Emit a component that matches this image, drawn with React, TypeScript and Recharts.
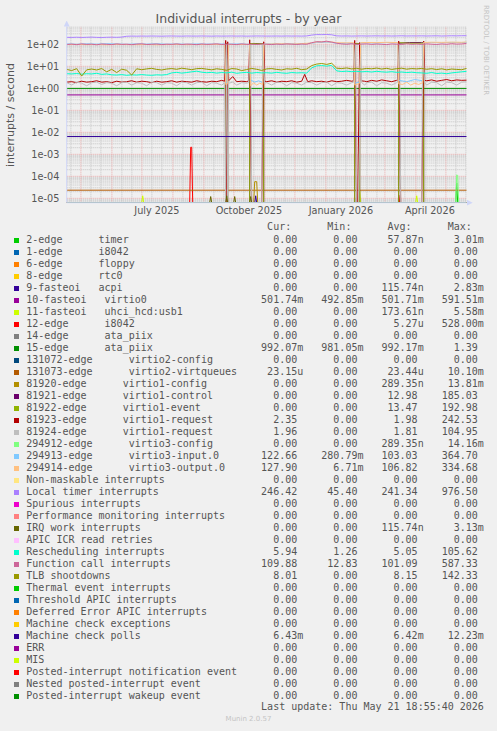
import { Line, LineChart, ReferenceLine, XAxis, YAxis } from "recharts";

type Pt = [number, number];

// x is "days since the start of the 400-day window"
const START = Date.parse("2025-04-16T18:55:40Z");
const dayOf = (iso: string) => (Date.parse(iso + "T00:00:00Z") - START) / 86400000;

const GRID_MONTHS = [
  "2025-04", "2025-05", "2025-06", "2025-07", "2025-08", "2025-09", "2025-10",
  "2025-11", "2025-12", "2026-01", "2026-02", "2026-03", "2026-04", "2026-05",
];
const LABEL_DATES = ["2025-07-16", "2025-10-16", "2026-01-16", "2026-04-15"];
const LABEL_TEXT = ["July 2025", "October 2025", "January 2026", "April 2026"];
const Y_TICKS = [1e-5, 1e-4, 1e-3, 1e-2, 1e-1, 1, 10, 100];
const Y_MINOR_STEPS = [2, 3, 4, 5, 6, 7, 8, 9];

const Y_MIN = 6.31e-6;
const Y_MAX = 644;

// sample days for the noisy series (every 5 days)
const DAYS5 = [
  0, 5, 10, 15, 20, 25, 30, 35, 40, 45,
  50, 55, 60, 65, 70, 75, 80, 85, 90, 95,
  100, 105, 110, 115, 120, 125, 130, 135, 140, 145,
  150, 155, 160, 165, 170, 175, 180, 185, 190, 195,
  200, 205, 210, 215, 220, 225, 230, 235, 240, 245,
  250, 255, 260, 265, 270, 275, 280, 285, 290, 295,
  300, 305, 310, 315, 320, 325, 330, 335, 340, 345,
  350, 355, 360, 365, 370, 375, 380, 385, 390, 395,
  400,
];

const LOCAL_TIMER = [
  208, 206, 210, 205, 209, 212, 207, 204, 209, 211,
  208, 213, 232, 236, 234, 237, 235, 238, 236, 234,
  237, 239, 236, 235, 238, 237, 236, 239, 237, 235,
  238, 236, 237, 239, 236, 238, 235, 237, 239, 238,
  236, 237, 238, 236, 239, 237, 238, 236, 240, 262,
  276, 274, 278, 270, 242, 238, 240, 237, 239, 241,
  238, 240, 242, 239, 241, 238, 240, 243, 239, 241,
  240, 242, 239, 241, 243, 238, 241, 244, 242, 245,
  246,
];

const FUNCTION_CALL = [
  98, 102, 96, 104, 99, 101, 95, 103, 100, 97,
  104, 99, 101, 96, 102, 105, 98, 100, 103, 97,
  101, 99, 104, 98, 102, 100, 96, 103, 99, 101,
  105, 98, 102, 100, 97, 104, 99, 101, 98, 103,
  100, 97, 102, 99, 104, 101, 98, 103, 100, 118,
  132, 128, 138, 126, 112, 104, 100, 106, 98, 102,
  105, 99, 103, 100, 97, 104, 101, 98, 106, 100,
  103, 99, 105, 101, 98, 104, 100, 107, 102, 104,
  110,
];

const RESCHEDULING = [
  4.6, 4.5, 4.7, 4.4, 4.6, 4.5, 4.8, 4.3, 4.5, 4.1,
  4.0, 4.2, 3.9, 4.1, 4.0, 4.2, 4.0, 3.9, 4.1, 4.0,
  4.2, 5.0, 5.3, 4.9, 5.2, 5.6, 6.0, 5.4, 5.1, 5.3,
  4.9, 5.2, 5.0, 5.4, 4.8, 5.1, 5.3, 4.9, 5.2, 5.0,
  5.1, 4.9, 5.3, 5.0, 4.8, 5.2, 5.0, 5.1, 4.9, 8.5,
  10.5, 10.8, 10.2, 11.0, 6.2, 5.8, 6.0, 5.7, 5.9, 5.6,
  5.8, 5.5, 5.9, 5.6, 5.4, 5.7, 5.3, 5.5, 5.2, 5.4,
  5.1, 5.0, 4.8, 5.2, 4.7, 4.9, 4.6, 5.0, 5.3, 5.6,
  5.9,
];

const TLB = [
  7.2, 6.4, 7.8, 3.6, 6.9, 7.5, 6.8, 7.9, 5.6, 7.3,
  5.2, 7.4, 6.6, 4.0, 7.7, 7.0, 7.6, 8.1, 7.2, 6.8,
  7.5, 7.9, 7.3, 8.2, 7.6, 7.0, 7.8, 8.0, 7.4, 6.9,
  7.7, 7.2, 6.6, 7.9, 7.5, 6.4, 7.1, 8.0, 7.3, 6.5,
  7.6, 7.9, 7.2, 6.8, 7.7, 7.4, 8.1, 7.0, 7.5, 10.8,
  12.6, 13.4, 12.2, 13.8, 8.2, 7.9, 8.4, 7.6, 8.1, 7.4,
  8.0, 7.7, 8.3, 7.5, 8.1, 7.2, 7.8, 8.2, 7.4, 7.9,
  7.6, 8.0, 7.3, 7.8, 7.1, 7.7, 6.9, 7.5, 7.2, 7.0,
  8.0,
];

// virtio1 / virtio3 devices swap roles during four periods
const IRQ_81921: Pt[] = [
  [0, 0], [159, 0], [159, 104], [161, 104], [161, 0], [183, 0], [183, 106], [196, 108], [197, 108], [197, 0],
  [288, 0], [288, 105], [293, 107], [293, 0], [332, 0], [332, 112], [343, 120], [355, 121], [357, 116], [357, 0],
  [400, 0],
];
const IRQ_81922: Pt[] = [
  [0, 0], [159, 0], [159, 106], [161, 106], [161, 0], [183, 0], [183, 107], [190, 105], [197, 106], [197, 0],
  [288, 0], [288, 106], [293, 105], [293, 0], [332, 0], [332, 118], [343, 112], [355, 112], [357, 117], [357, 0],
  [400, 0],
];
const IRQ_81923: Pt[] = [
  [0, 1.9], [5, 2.0], [10, 1.8], [15, 2.1], [20, 1.9], [25, 2.0], [30, 2.2], [35, 1.9], [40, 2.0], [45, 1.8],
  [50, 2.1], [55, 1.9], [60, 2.0], [65, 2.2], [70, 1.9], [75, 2.1], [80, 2.0], [85, 1.8], [90, 2.1], [95, 1.9],
  [100, 2.0], [105, 2.2], [110, 1.9], [115, 2.1], [120, 2.0], [125, 1.9], [130, 2.2], [135, 2.0], [140, 1.9], [145, 2.1],
  [150, 2.0], [155, 2.3], [158, 2.1], [159, 150], [160, 0], [161, 130], [162, 2.2], [166, 3.4], [170, 2.0], [175, 2.1],
  [180, 2.0], [182, 2.2], [183, 160], [185, 0], [195, 0], [197, 130], [198, 2.1],
  [200, 2.0], [205, 2.2], [210, 1.9], [215, 2.1], [220, 2.0], [225, 2.2], [230, 1.9], [235, 2.1], [238, 4.3], [241, 2.0],
  [245, 2.2], [250, 2.0], [255, 2.1], [260, 1.9], [265, 2.2], [270, 2.0], [275, 2.1], [280, 2.3], [285, 2.1], [287, 2.2],
  [288, 150], [290, 0], [291, 0], [293, 120], [294, 2.2], [298, 2.1],
  [300, 2.0], [305, 2.3], [310, 2.1], [315, 2.4], [320, 2.2], [325, 2.0], [330, 2.3], [331, 2.2], [332, 140], [334, 0],
  [355, 0], [357, 140], [358, 2.3], [360, 2.2], [365, 2.4], [370, 2.1], [375, 2.3], [380, 2.5], [385, 2.2], [390, 2.4],
  [395, 2.3], [400, 2.35],
];
const IRQ_81924: Pt[] = [
  [0, 1.8], [5, 1.4], [10, 1.9], [15, 1.7], [20, 1.3], [25, 1.8], [30, 1.9], [35, 1.5], [40, 1.8], [45, 1.7],
  [50, 1.3], [55, 1.8], [60, 1.9], [65, 1.4], [70, 1.8], [75, 1.7], [80, 1.3], [85, 1.9], [90, 1.8], [95, 1.4],
  [100, 1.8], [105, 1.7], [110, 1.3], [115, 1.9], [120, 1.8], [125, 1.4], [130, 1.8], [135, 1.9], [140, 1.3], [145, 1.8],
  [150, 1.7], [155, 1.4], [158, 1.8], [159, 0], [160, 100], [161, 0], [162, 1.7], [166, 1.9], [170, 1.4], [175, 1.8],
  [180, 1.7], [182, 1.8], [184, 100], [185, 0], [195, 0], [196, 100], [198, 1.7],
  [200, 1.8], [205, 1.4], [210, 1.9], [215, 1.8], [220, 1.3], [225, 1.8], [230, 1.7], [235, 1.4], [240, 1.9], [245, 1.8],
  [250, 1.4], [255, 1.8], [260, 1.9], [265, 1.3], [270, 1.8], [275, 1.7], [280, 1.4], [285, 1.8], [287, 1.9],
  [289, 100], [290, 0], [292, 0], [294, 100], [295, 1.8], [298, 1.4],
  [300, 1.8], [305, 1.9], [310, 1.3], [315, 1.8], [320, 1.7], [325, 1.4], [330, 1.8], [331, 1.9], [333, 100], [334, 0],
  [355, 0], [356, 100], [358, 1.8], [360, 1.4], [365, 1.9], [370, 1.8], [375, 1.3], [380, 1.9], [385, 1.8], [390, 1.4],
  [395, 1.9], [400, 1.96],
];
const IRQ_294913: Pt[] = [
  [0, 104], [10, 101], [20, 105], [30, 102], [40, 106], [50, 103], [60, 100], [70, 104], [80, 102], [90, 105],
  [100, 101], [110, 103], [120, 100], [130, 104], [140, 102], [150, 101], [158, 103], [159, 1.8], [161, 1.9], [162, 102],
  [170, 104], [180, 101], [183, 100], [184, 2.4], [188, 1.9], [192, 2.2], [196, 1.8], [197, 103], [205, 105], [215, 102],
  [225, 106], [235, 104], [245, 112], [250, 121], [260, 124], [266, 119], [270, 110], [280, 112], [287, 110], [288, 1.7],
  [293, 1.9], [294, 115], [300, 118], [310, 114], [320, 120], [331, 117], [332, 2.3], [340, 2.0], [348, 2.5], [356, 2.2],
  [357, 119], [365, 121], [375, 118], [385, 122], [395, 120], [400, 122.66],
];
const IRQ_294914: Pt[] = [
  [0, 97], [10, 99], [20, 96], [30, 98], [40, 95], [50, 99], [60, 97], [70, 96], [80, 98], [90, 95],
  [100, 97], [110, 99], [120, 96], [130, 98], [140, 97], [150, 99], [158, 96], [159, 1.5], [161, 1.6], [162, 98],
  [170, 97], [180, 99], [183, 98], [184, 1.3], [187, 1.8], [190, 1.4], [193, 1.7], [196, 1.5], [197, 100], [205, 104],
  [215, 106], [225, 103], [235, 107], [245, 115], [250, 128], [260, 130], [266, 126], [270, 118], [280, 116], [287, 117],
  [288, 1.4], [293, 1.7], [294, 118], [300, 121], [310, 119], [320, 123], [331, 120], [332, 1.6], [336, 1.5], [340, 1.9],
  [344, 1.4], [348, 1.7], [352, 1.5], [356, 1.8], [357, 121], [365, 124], [375, 122], [385, 125], [395, 123], [400, 127.9],
];

// short spikes near the floor
const IRQ_2: Pt[] = [[0, 0], [389, 0], [390, 5e-5], [391, 0], [400, 0]];
const IRQ_9: Pt[] = [[0, 0], [188, 0], [189, 1.3e-5], [190, 0], [400, 0]];
const IRQ_11: Pt[] = [[0, 0], [75, 0], [76, 1.3e-5], [77, 0], [292, 0], [293, 2.4e-5], [294, 0], [349, 0], [350, 1.3e-5], [351, 0], [400, 0]];
const IRQ_12: Pt[] = [[0, 0], [123, 0], [124, 2.1e-3], [125, 2.1e-3], [126, 0], [159, 0], [159, 1.9e-2], [160, 0], [332, 0], [332, 1.4e-5], [333, 0], [400, 0]];
const IRQ_81920: Pt[] = [[0, 0], [159, 0], [160, 9.5e-5], [161, 0], [187, 0], [188, 5.7e-5], [190, 5.7e-5], [191, 0], [400, 0]];
const IRQ_294912: Pt[] = [[0, 0], [389, 0], [390, 1.15e-4], [391, 1.1e-4], [392, 0], [400, 0]];
const IRQ_WORK: Pt[] = [[0, 0], [143, 0], [144, 1.2e-5], [145, 0], [159, 0], [160, 1.3e-5], [161, 0], [167, 0], [168, 1.2e-5], [169, 0], [183, 0], [184, 1.2e-5], [185, 0], [400, 0]];

// flat series
const IRQ_10: Pt[] = [[0, 0.5], [400, 0.5]];
const IRQ_15: Pt[] = [[0, 0.99], [400, 0.99]];
const IRQ_131073: Pt[] = [[0, 2.34e-5], [400, 2.34e-5]];
const MCE_POLLS: Pt[] = [[0, 6.42e-3], [400, 6.42e-3]];
const ZERO: Pt[] = [[0, 0], [400, 0]];

const LABELS = [
  "2-edge      timer",
  "1-edge      i8042",
  "6-edge      floppy",
  "8-edge      rtc0",
  "9-fasteoi   acpi",
  "10-fasteoi   virtio0",
  "11-fasteoi   uhci_hcd:usb1",
  "12-edge      i8042",
  "14-edge      ata_piix",
  "15-edge      ata_piix",
  "131072-edge      virtio2-config",
  "131073-edge      virtio2-virtqueues",
  "81920-edge      virtio1-config",
  "81921-edge      virtio1-control",
  "81922-edge      virtio1-event",
  "81923-edge      virtio1-request",
  "81924-edge      virtio1-request",
  "294912-edge      virtio3-config",
  "294913-edge      virtio3-input.0",
  "294914-edge      virtio3-output.0",
  "Non-maskable interrupts",
  "Local timer interrupts",
  "Spurious interrupts",
  "Performance monitoring interrupts",
  "IRQ work interrupts",
  "APIC ICR read retries",
  "Rescheduling interrupts",
  "Function call interrupts",
  "TLB shootdowns",
  "Thermal event interrupts",
  "Threshold APIC interrupts",
  "Deferred Error APIC interrupts",
  "Machine check exceptions",
  "Machine check polls",
  "ERR",
  "MIS",
  "Posted-interrupt notification event",
  "Nested posted-interrupt event",
  "Posted-interrupt wakeup event",
];

const COLORS = [
  "#00CC00", "#0066B3", "#FF8000", "#FFCC00", "#330099", "#990099", "#CCFF00", "#FF0000", "#808080", "#008F00",
  "#00487D", "#B35A00", "#B38F00", "#6B006B", "#8FB300", "#B30000", "#BEBEBE", "#80FF80", "#80C9FF", "#FFC080",
  "#FFE680", "#AA80FF", "#EE00CC", "#FF8080", "#666600", "#FFBFFF", "#00FFCC", "#CC6699", "#999900",
  "#00CC00", "#0066B3", "#FF8000", "#FFCC00", "#330099", "#990099", "#CCFF00", "#FF0000", "#808080", "#008F00",
];

const CUR = [
  "0.00", "0.00", "0.00", "0.00", "0.00", "501.74m", "0.00", "0.00", "0.00", "992.07m",
  "0.00", "23.15u", "0.00", "0.00", "0.00", "2.35", "1.96", "0.00", "122.66", "127.90",
  "0.00", "246.42", "0.00", "0.00", "0.00", "0.00", "5.94", "109.88", "8.01",
  "0.00", "0.00", "0.00", "0.00", "6.43m", "0.00", "0.00", "0.00", "0.00", "0.00",
];
const MIN = [
  "0.00", "0.00", "0.00", "0.00", "0.00", "492.85m", "0.00", "0.00", "0.00", "981.05m",
  "0.00", "0.00", "0.00", "0.00", "0.00", "0.00", "0.00", "0.00", "280.79m", "6.71m",
  "0.00", "45.40", "0.00", "0.00", "0.00", "0.00", "1.26", "12.83", "0.00",
  "0.00", "0.00", "0.00", "0.00", "0.00", "0.00", "0.00", "0.00", "0.00", "0.00",
];
const AVG = [
  "57.87n", "0.00", "0.00", "0.00", "115.74n", "501.71m", "173.61n", "5.27u", "0.00", "992.17m",
  "0.00", "23.44u", "289.35n", "12.98", "13.47", "1.98", "1.81", "289.35n", "103.03", "106.82",
  "0.00", "241.34", "0.00", "0.00", "115.74n", "0.00", "5.05", "101.09", "8.15",
  "0.00", "0.00", "0.00", "0.00", "6.42m", "0.00", "0.00", "0.00", "0.00", "0.00",
];
const MAX = [
  "3.01m", "0.00", "0.00", "0.00", "2.83m", "591.51m", "5.58m", "528.00m", "0.00", "1.39",
  "0.00", "10.10m", "13.81m", "185.03", "192.98", "242.53", "104.95", "14.16m", "364.70", "334.68",
  "0.00", "976.50", "0.00", "0.00", "3.13m", "0.00", "105.62", "587.33", "142.33",
  "0.00", "0.00", "0.00", "0.00", "12.23m", "0.00", "0.00", "0.00", "0.00", "0.00",
];

const zip5 = (vals: number[]): Pt[] => DAYS5.map((d, i) => [d, vals[i]]);

// points per series, same order as LABELS / COLORS
const POINTS: Pt[][] = [
  IRQ_2, ZERO, ZERO, ZERO, IRQ_9, IRQ_10, IRQ_11, IRQ_12, ZERO, IRQ_15,
  ZERO, IRQ_131073, IRQ_81920, IRQ_81921, IRQ_81922, IRQ_81923, IRQ_81924, IRQ_294912, IRQ_294913, IRQ_294914,
  ZERO, zip5(LOCAL_TIMER), ZERO, ZERO, IRQ_WORK, ZERO, zip5(RESCHEDULING), zip5(FUNCTION_CALL), zip5(TLB),
  ZERO, ZERO, ZERO, ZERO, MCE_POLLS, ZERO, ZERO, ZERO, ZERO, ZERO,
];

const MAJOR_X = GRID_MONTHS.map((m) => dayOf(m + "-01")).filter((d) => d > 0 && d < 400);
const MINOR_X = GRID_MONTHS.flatMap((m) => [dayOf(m + "-11"), dayOf(m + "-21")]).filter((d) => d > 0 && d < 400);
const MINOR_Y = Y_TICKS.flatMap((t) => Y_MINOR_STEPS.map((s) => s * t)).concat(Y_MINOR_STEPS.map((s) => s * 1e-6)).filter((v) => v > Y_MIN && v < Y_MAX);
const LABEL_DAYS = LABEL_DATES.map(dayOf);

const sci = (v: number) => {
  const e = Math.round(Math.log10(v));
  return `1e${e < 0 ? "-" : "+"}${String(Math.abs(e)).padStart(2, "0")}`;
};
const cell = (s: string) => (/\d$/.test(s) ? s + " " : s).padStart(10);

const FONT = "#555555";
const AXIS = "#CFD6F8";
const GRID = "#C4C4C4";
const MGRID = "#EBA8A8";
const MONO = "'DejaVu Sans Mono', monospace";
const SANS = "'DejaVu Sans', sans-serif";

export default function App() {
  return (
    <div style={{ position: "absolute", left: 0, top: 0, width: 497, height: 731, background: "#F0F0F0", overflow: "hidden" }}>
      <svg width={0} height={0} style={{ position: "absolute" }}>
        <defs>
          <marker id="arrow" viewBox="0 0 10 10" refX={0} refY={5} markerWidth={6} markerHeight={6} markerUnits="userSpaceOnUse" orient="auto-start-reverse">
            <path d="M0,0 L10,5 L0,10 z" fill={AXIS} />
          </marker>
        </defs>
      </svg>

      <div style={{ position: "absolute", top: 11, width: 497, textAlign: "center", font: `12.5px ${SANS}`, color: FONT }}>
        Individual interrupts - by year
      </div>
      <div style={{ position: "absolute", left: 10, top: 114.5, transform: "translate(-50%, -50%) rotate(-90deg)", whiteSpace: "nowrap", font: `11px ${SANS}`, color: FONT }}>
        interrupts / second
      </div>
      <div style={{ position: "absolute", left: 486, top: 5, writingMode: "vertical-rl", font: `7px ${SANS}`, color: "#C4C4C4", transform: "translateX(-50%)" }}>
        RRDTOOL / TOBI OETIKER
      </div>

      <div style={{ position: "absolute", left: 0, top: 0 }}>
        <LineChart width={497} height={224} margin={{ top: 26.5, right: 30.3, bottom: 0, left: 0 }}>
          <XAxis
            type="number"
            dataKey="d"
            domain={[0, 400]}
            allowDataOverflow
            ticks={LABEL_DAYS}
            tickFormatter={(v: number) => LABEL_TEXT[LABEL_DAYS.findIndex((d) => Math.abs(d - v) < 0.01)] ?? ""}
            tick={{ fill: FONT, fontSize: 9.7, fontFamily: SANS }}
            tickLine={false}
            tickSize={0}
            tickMargin={4.7}
            height={21.3}
            axisLine={{ stroke: AXIS, markerEnd: "url(#arrow)" }}
          />
          <YAxis
            type="number"
            scale="log"
            domain={[Y_MIN, Y_MAX]}
            allowDataOverflow
            ticks={Y_TICKS}
            tickFormatter={sci}
            tick={{ fill: FONT, fontSize: 9.7, fontFamily: SANS }}
            tickLine={false}
            tickSize={0}
            tickMargin={7.4}
            width={66.7}
            axisLine={{ stroke: AXIS, markerStart: "url(#arrow)" }}
          />
          {MINOR_Y.map((v) => (
            <ReferenceLine key={`my${v}`} y={v} stroke={GRID} strokeDasharray="1 1" />
          ))}
          {MINOR_X.map((d) => (
            <ReferenceLine key={`mx${d}`} x={d} stroke={GRID} strokeDasharray="1 1" />
          ))}
          {Y_TICKS.map((v) => (
            <ReferenceLine key={`My${v}`} y={v} stroke={MGRID} strokeDasharray="1 1" />
          ))}
          {MAJOR_X.map((d) => (
            <ReferenceLine key={`Mx${d}`} x={d} stroke={MGRID} strokeDasharray="1 1" />
          ))}
          {POINTS.map((pts, i) => (
            <Line
              key={LABELS[i]}
              data={pts.map(([d, v]) => ({ d, v }))}
              dataKey={(p: { v: number }) => Math.max(p.v, Y_MIN)}
              type="linear"
              stroke={COLORS[i]}
              strokeWidth={1}
              dot={false}
              activeDot={false}
              isAnimationActive={false}
            />
          ))}
        </LineChart>
      </div>

      <div style={{ position: "absolute", left: 0, top: 0, font: `10px ${MONO}`, color: FONT, lineHeight: "12px" }}>
        <div style={{ position: "absolute", left: 26.3, top: 221, whiteSpace: "pre" }}>
          {"".padEnd(36) + "Cur:".padStart(8) + "Min:".padStart(10) + "Avg:".padStart(10) + "Max:".padStart(10)}
        </div>
        {LABELS.map((label, i) => (
          <div key={label + i} style={{ position: "absolute", left: 0, top: 234 + 12 * i, height: 12, width: 497 }}>
            <span style={{ position: "absolute", left: 14, top: 3.5, width: 5, height: 5, background: COLORS[i] }} />
            <span style={{ position: "absolute", left: 26.3, top: 0, whiteSpace: "pre" }}>
              {label.padEnd(36) + cell(CUR[i]) + cell(MIN[i]) + cell(AVG[i]) + cell(MAX[i])}
            </span>
          </div>
        ))}
        <div style={{ position: "absolute", left: 26.3, top: 701, whiteSpace: "pre" }}>
          {"Last update: Thu May 21 18:55:40 2026".padStart(76)}
        </div>
      </div>

      <div style={{ position: "absolute", top: 715, width: 497, textAlign: "center", font: `7px ${SANS}`, color: "#C4C4C4" }}>
        Munin 2.0.57
      </div>
    </div>
  );
}
